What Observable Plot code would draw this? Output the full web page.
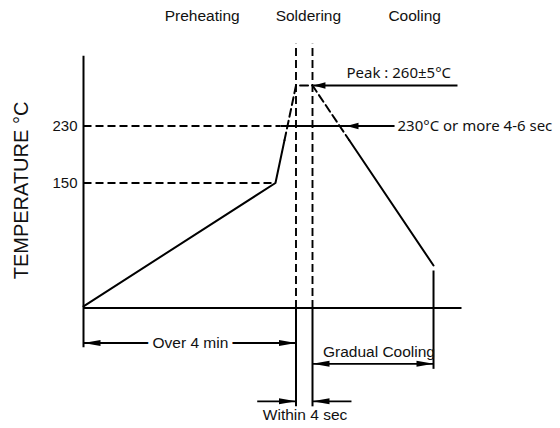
<!DOCTYPE html>
<html>
<head>
<meta charset="utf-8">
<script src="https://cdn.jsdelivr.net/npm/d3@7"></script>
<script src="https://cdn.jsdelivr.net/npm/@observablehq/plot@0.6"></script>
<style>
  body { margin: 0; background: #fff; }
</style>
</head>
<body>
<script>
// ---- Data (schematic reflow profile, not to scale) ----
// scale knots: time (s) and temperature (°C)
const timeKnots = [0, 240, 244, 400];
const tempKnots = [0, 150, 230, 260];

// temperature profile vertices
const profileTime = [0, 216.8, 227, 240, 244, 282.5, 370.7];
const profileTemp = [2, 150, 210, 260, 260, 210, 51];

// y-axis ticks
const tickTemps = [150, 230];
const tickLabels = ["150", "230"];

// phase headers
const phaseNames = ["Preheating", "Soldering", "Cooling"];
const phaseTimes = [134, 243, 351];

// key times
const preheatEnd = 216.8;
const solderStart = 240;
const solderEnd = 244;
const coolEnd = 370.7;
const axisEndTime = 400;

// vertical extents (temperature units)
const axisTopTemp = 282;
const axisBottomTemp = -47;
const guideTopTemp = 291;
const solderDimBottom = -118;
const coolDimTop = 45;
const coolDimBottom = -73;

// callouts on the right
const calloutTexts = ["Peak : 260±5°C", "230°C or more 4-6 sec"];
const calloutLevels = [260, 230];
const calloutTips = [245, 279.6];
const calloutTails = [395.8, 329.9];
const calloutTextTimes = [279.6, 333];
const calloutTextTemps = [268.9, 230];
const line230Start = 222.5;

// dimension annotations below the axis
const overLabel = "Over 4 min";
const overRow = -42;
const overLabelTime = 120.8;
const gradualLabel = "Gradual Cooling";
const gradualRow = -67;
const gradualLabelTime = 313.6;
const gradualLabelRow = -52.5;
const withinLabel = "Within 4 sec";
const withinRow = -112;
const withinTails = [196.2, 284.8];
const withinLabelTime = 242.2;
const withinLabelRow = -128;

// ---- build mark data ----
const profile = profileTime.map((t, i) => ({t, T: profileTemp[i]}));
const solidA = profile.slice(0, 3);
const dashedTop = profile.slice(2, 6);
const solidB = profile.slice(5);

const seg = (x1, y1, x2, y2) => ({x1, y1, x2, y2});
const solidSegs = [
  seg(0, 0, axisEndTime, 0),
  seg(0, axisBottomTemp, 0, axisTopTemp),
  seg(solderStart, 0, solderStart, solderDimBottom),
  seg(solderEnd, 0, solderEnd, solderDimBottom),
  seg(coolEnd, coolDimTop, coolEnd, coolDimBottom)
];
const arrowSegs = [
  seg(line230Start, calloutLevels[1], calloutTails[1], calloutLevels[1]),
  seg(calloutTips[0], calloutLevels[0], calloutTails[0], calloutLevels[0]),
  seg(0, overRow, solderStart, overRow),
  seg(solderEnd, gradualRow, coolEnd, gradualRow),
  seg(withinTails[0], withinRow, solderStart, withinRow),
  seg(solderEnd, withinRow, withinTails[1], withinRow)
];
const dashedSegs = [
  seg(0, tickTemps[0], preheatEnd, tickTemps[0]),
  seg(0, tickTemps[1], line230Start, tickTemps[1]),
  seg(solderStart, 0, solderStart, guideTopTemp),
  seg(solderEnd, 0, solderEnd, guideTopTemp)
];

function head(len, hw, dir) {
  return {draw(ctx) {
    ctx.moveTo(0, 0);
    ctx.lineTo(-dir * len, -hw);
    ctx.lineTo(-dir * len, hw);
    ctx.closePath();
  }};
}
const smallLeft = head(12, 3.2, -1);
const bigLeft = head(17, 3, -1);
const bigRight = head(17, 3, 1);

const calloutHeads = calloutTips.map((t, i) => ({t, T: calloutLevels[i]}));
const leftHeads = [
  {t: 0, T: overRow},
  {t: solderEnd, T: gradualRow},
  {t: solderEnd, T: withinRow}
];
const rightHeads = [
  {t: solderStart, T: overRow},
  {t: coolEnd, T: gradualRow},
  {t: solderStart, T: withinRow}
];

const FONT = "'Liberation Sans', Arial, sans-serif";
const CAL = "'Noto Sans', 'Open Sans', sans-serif";

const chart = Plot.plot({
  width: 560,
  height: 428,
  marginTop: 0, marginRight: 0, marginBottom: 0, marginLeft: 0,
  style: {fontFamily: FONT, background: "#fff", color: "#000"},
  x: {type: "linear", domain: timeKnots, range: [83, 295.5, 312, 461], axis: null},
  y: {type: "linear", domain: tempKnots, range: [307.5, 182.5, 125.5, 85], axis: null},
  marks: [
    Plot.link(dashedSegs, {x1: "x1", y1: "y1", x2: "x2", y2: "y2", stroke: "#000", strokeWidth: 1.9, strokeDasharray: "8,4"}),
    Plot.link(solidSegs, {x1: "x1", y1: "y1", x2: "x2", y2: "y2", stroke: "#000", strokeWidth: 2}),
    Plot.link(arrowSegs, {x1: "x1", y1: "y1", x2: "x2", y2: "y2", stroke: "#000", strokeWidth: 1.8}),
    Plot.line(solidA, {x: "t", y: "T", stroke: "#000", strokeWidth: 2}),
    Plot.line(solidB, {x: "t", y: "T", stroke: "#000", strokeWidth: 2}),
    Plot.line(dashedTop, {x: "t", y: "T", stroke: "#000", strokeWidth: 2, strokeDasharray: "8,4"}),
    Plot.dot(calloutHeads, {x: "t", y: "T", symbol: smallLeft, fill: "#000", stroke: "none"}),
    Plot.dot(leftHeads, {x: "t", y: "T", symbol: bigLeft, fill: "#000", stroke: "none"}),
    Plot.dot(rightHeads, {x: "t", y: "T", symbol: bigRight, fill: "#000", stroke: "none"}),
    // tick labels
    Plot.text(tickTemps, {x: 0, y: d => d, text: (d, i) => tickLabels[i], textAnchor: "end", dx: -6, fontSize: 15, fill: "#111"}),
    // phase headers
    Plot.text(phaseNames, {x: phaseTimes, text: d => d, frameAnchor: "top", lineAnchor: "middle", textAnchor: "middle", dy: 16, fontSize: 15.5, fill: "#111"}),
    // y label
    Plot.text(["TEMPERATURE °C"], {frameAnchor: "left", textAnchor: "middle", lineAnchor: "middle", dx: 21, dy: -24, rotate: -90, fontSize: 20, fill: "#111"}),
    // callouts
    Plot.text(calloutTexts, {x: calloutTextTimes, y: calloutTextTemps, text: d => d, textAnchor: "start", fontFamily: CAL, fontSize: 15, fill: "#111"}),
    // dimension labels
    Plot.text([overLabel], {x: [overLabelTime], y: [overRow], text: d => d, fontSize: 15.5, fill: "#111", stroke: "#fff", strokeWidth: 10}),
    Plot.text([gradualLabel], {x: [gradualLabelTime], y: [gradualLabelRow], text: d => d, fontSize: 15.5, fill: "#111"}),
    Plot.text([withinLabel], {x: [withinLabelTime], y: [withinLabelRow], text: d => d, fontSize: 15.5, fill: "#111"})
  ]
});
document.body.appendChild(chart);
</script>
</body>
</html>
